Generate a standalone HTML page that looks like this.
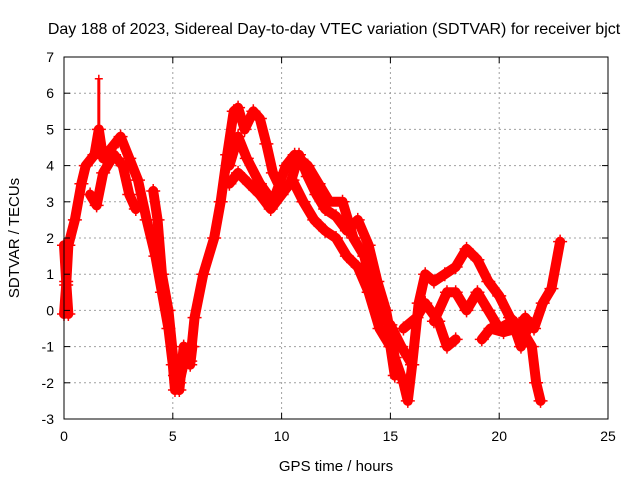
<!DOCTYPE html>
<html><head><meta charset="utf-8"><style>
body{margin:0;background:#fff}
svg{display:block;font-family:"Liberation Sans",sans-serif}
</style></head><body>
<svg id="c" width="640" height="480">
<rect width="640" height="480" fill="#fff"/>
<text x="334" y="34" font-size="16" text-anchor="middle">Day 188 of 2023, Sidereal Day-to-day VTEC variation (SDTVAR) for receiver bjct</text>
<text x="336" y="471" font-size="15" text-anchor="middle">GPS time / hours</text>
<text transform="translate(19,238) rotate(-90)" font-size="15" text-anchor="middle">SDTVAR / TECUs</text>
<g id="grid"></g><g id="data"></g><g id="axes"></g>
</svg>
<script>
const xTicks=[0,5,10,15,20,25];
const yTicks=[-3,-2,-1,0,1,2,3,4,5,6,7];
const seriesA=[[0,-0.1],[0.1,0.7],[0.2,1.8],[0.5,2.5],[0.8,3.5],[1.0,4.0],[1.4,4.3],[1.6,5.0],[1.8,4.2],[2.2,4.5],[2.6,4.8],[3.0,4.2],[3.4,3.6],[3.8,2.5],[4.2,1.5],[4.5,0.5],[4.8,-0.5],[5.0,-1.5],[5.1,-2.2],[5.3,-2.0],[5.6,-1.2],[5.8,-1.4],[6.0,-0.2],[6.4,1.0],[6.9,2.0],[7.2,3.0],[7.5,4.3],[7.8,5.5],[8.0,5.6],[8.3,5.0],[8.7,5.5],[9.0,5.3],[9.3,4.6],[9.6,3.8],[10.0,3.3],[10.4,3.5],[10.8,4.3],[11.2,3.7],[11.6,3.2],[12.0,2.8],[12.5,2.6],[13.0,2.2],[13.5,2.5],[14.0,1.8],[14.4,0.8],[14.8,0.0],[15.2,-1.3],[15.6,-2.0],[15.8,-2.5],[16.0,-1.5],[16.3,0.2],[16.6,1.0],[17.0,0.8],[17.5,1.0],[18.0,1.2],[18.5,1.7],[19.0,1.4],[19.5,0.8],[20.0,0.4],[20.5,-0.2],[21.0,-0.5],[21.5,-1.0],[21.7,-2.0],[21.9,-2.5]];
const seriesB=[[1.2,3.2],[1.5,2.9],[1.8,3.8],[2.3,4.3],[2.7,4.0],[3.0,3.2],[3.3,2.8]];
const seriesC=[[4.1,3.3],[4.3,2.5],[4.5,1.0],[4.8,0],[5.1,-1.8],[5.3,-2.2],[5.5,-1.0],[5.8,-1.5],[5.9,-1.0]];
const seriesD=[[7.6,3.5],[8.0,3.8],[8.5,3.5],[9.0,3.2],[9.5,2.8],[10.0,3.2],[10.5,3.6],[11.0,3.0],[11.5,2.5],[12.0,2.2],[12.5,2.0],[13.0,1.5],[13.5,1.2],[14.0,0.5],[14.5,-0.5],[15.0,-1.0],[15.2,-1.8]];
const seriesE=[[7.6,4.0],[8.0,4.8],[8.4,4.2],[9.0,3.5],[9.6,3.0],[10.2,4.0],[10.6,4.3],[11.2,4.0],[11.7,3.5],[12.2,3.0],[12.8,3.0],[13.3,2.0],[13.8,1.5],[14.2,0.5],[14.6,-0.2],[15.0,-0.4],[15.5,-1.0],[16.0,-1.5]];
const seriesF=[[15.6,-0.5],[16.2,-0.2],[16.6,0.2],[17.2,-0.3],[17.6,-1.0],[18.0,-0.8]];
const seriesG=[[17.0,-0.3],[17.6,0.5],[18.0,0.5],[18.5,0.0],[19.0,0.5],[19.5,0.0],[20,-0.5],[20.6,-0.3],[21,-1.0],[21.3,-0.5]];
const seriesH=[[19.2,-0.8],[19.6,-0.5],[20.2,-0.6],[20.8,-0.5],[21.2,-0.2],[21.6,-0.5],[22.0,0.2],[22.4,0.6],[22.8,1.9]];
const seriesI=[[0,1.8],[0.1,0.8],[0.2,-0.1]];
const seriesSpike=[[1.6,4.5],[1.6,6.4]];
const allSeries=[seriesA,seriesB,seriesC,seriesD,seriesE,seriesF,seriesG,seriesH,seriesI];
const X0=64,X1=608,Y0=419,Y1=57;
const sx=h=>X0+(h-0)/(25-0)*(X1-X0);
const sy=v=>Y0-(v+3)/10*(Y0-Y1);
const NS='http://www.w3.org/2000/svg';
function mk(t,a,p){const e=document.createElementNS(NS,t);for(const k in a)e.setAttribute(k,a[k]);p.appendChild(e);return e;}
const grid=document.getElementById('grid'),axes=document.getElementById('axes'),data=document.getElementById('data');
xTicks.forEach(t=>{const x=sx(t);
 if(t>0&&t<25){const l=mk('line',{x1:x,x2:x,y1:Y1,y2:Y0,stroke:'#a0a0a0','stroke-dasharray':'2,3'},grid);
 }
 mk('line',{x1:x,x2:x,y1:Y0,y2:Y0-6,stroke:'#000'},axes);mk('line',{x1:x,x2:x,y1:Y1,y2:Y1+6,stroke:'#000'},axes);
 const tx=mk('text',{x:x,y:Y0+22,'font-size':14,'text-anchor':'middle'},axes);tx.textContent=t;
 });
yTicks.forEach(t=>{const y=sy(t);
 if(t>-3&&t<7){const l=mk('line',{x1:X0,x2:X1,y1:y,y2:y,stroke:'#a0a0a0','stroke-dasharray':'2,3'},grid);
 }
 mk('line',{x1:X0,x2:X0+6,y1:y,y2:y,stroke:'#000'},axes);mk('line',{x1:X1,x2:X1-6,y1:y,y2:y,stroke:'#000'},axes);
 const tx=mk('text',{x:X0-10,y:y+5,'font-size':14,'text-anchor':'end'},axes);tx.textContent=t;
 });
const fr=mk('rect',{x:X0,y:Y1,width:X1-X0,height:Y0-Y1,fill:'none',stroke:'#000'},axes);


allSeries.forEach((s,i)=>{
 const pl=mk('polyline',{points:s.map(p=>sx(p[0])+','+sy(p[1])).join(' '),fill:'none',stroke:'#ff0000','stroke-width':10,'stroke-linejoin':'round','stroke-linecap':'round'},data);
 
 
 s.forEach(p=>{const x=sx(p[0]),y=sy(p[1]);
  const m=mk('path',{d:`M${x-7},${y}H${x+7}M${x},${y-7}V${y+7}`,stroke:'#ff0000','stroke-width':1.5},data);
  
  });
});
const sp=mk('polyline',{points:seriesSpike.map(p=>sx(p[0])+','+sy(p[1])).join(' '),fill:'none',stroke:'#ff0000','stroke-width':3},data);


seriesSpike.forEach(p=>{const x=sx(p[0]),y=sy(p[1]);
 const m=mk('path',{d:`M${x-4},${y}H${x+4}M${x},${y-4}V${y+4}`,stroke:'#ff0000','stroke-width':1.5},data);
 
 });
</script>
</body></html>
